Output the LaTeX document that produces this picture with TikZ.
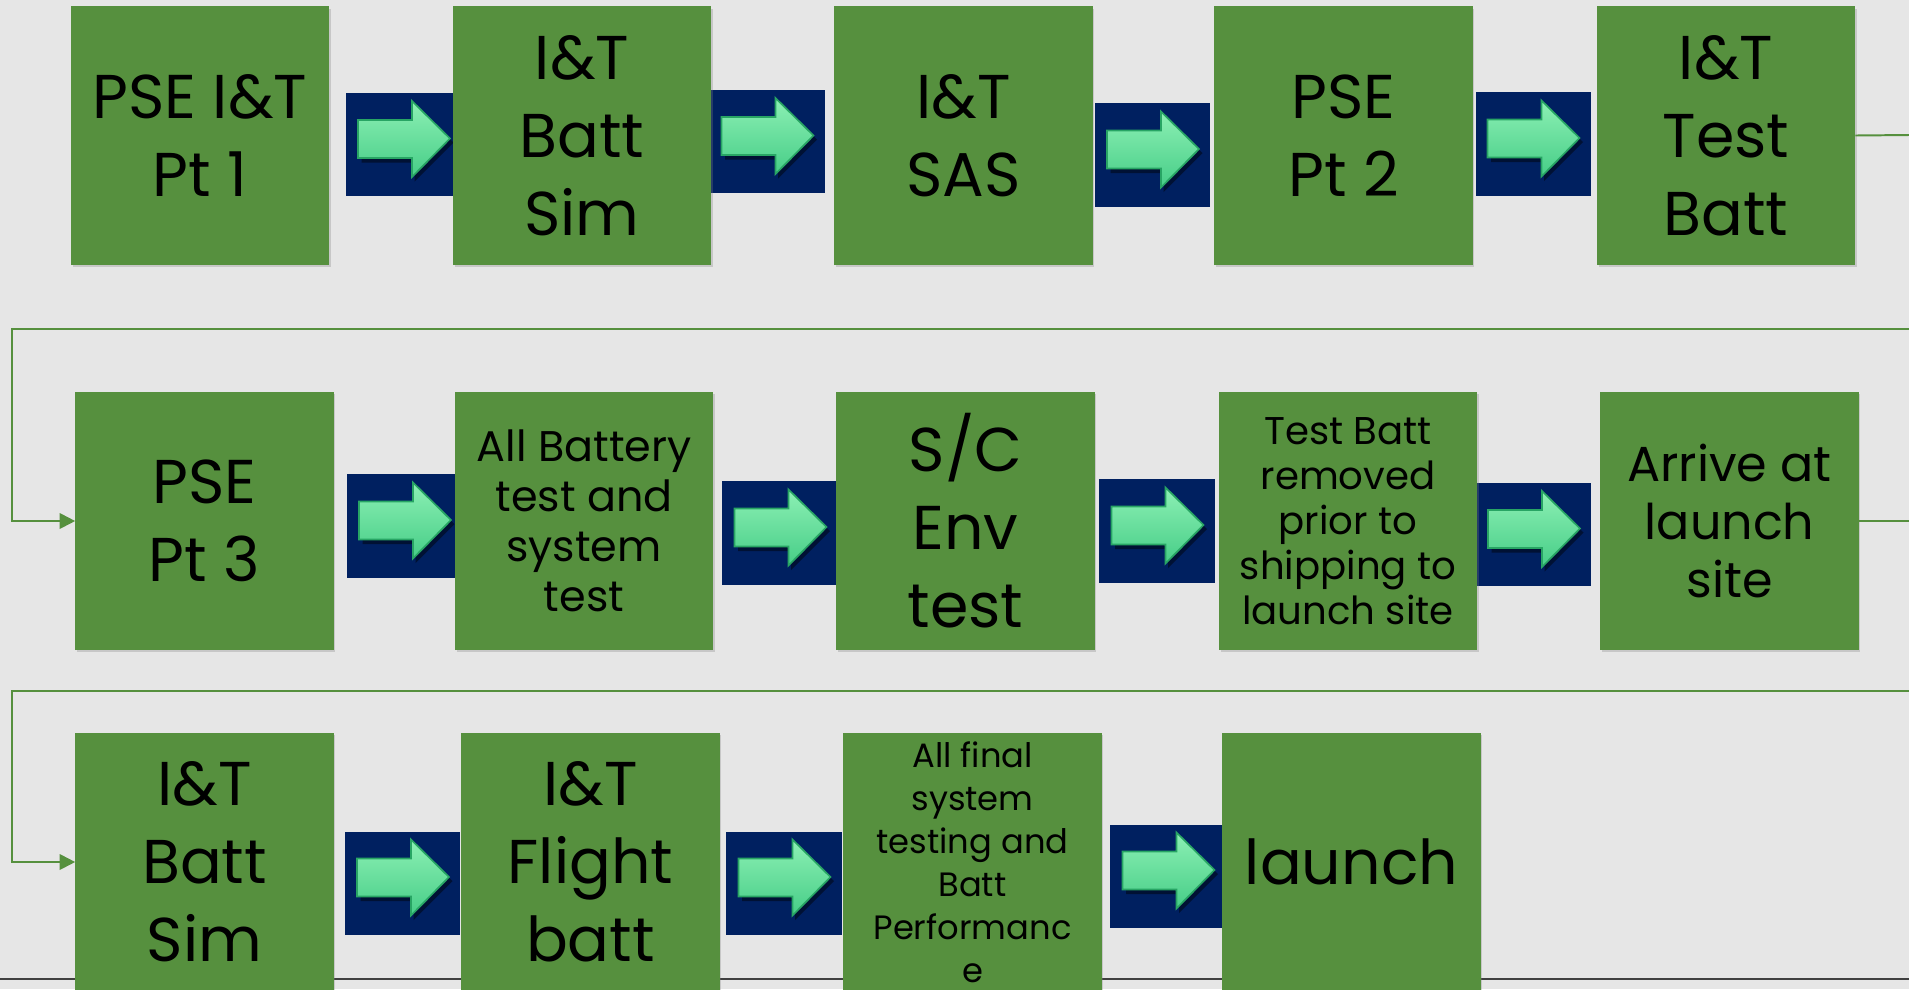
\documentclass[tikz,border=0pt]{standalone}
\usepackage{fontspec}
\setmainfont{Poppins}
\usetikzlibrary{arrows.meta,shadows}
\definecolor{slidebg}{RGB}{230,230,230}
\definecolor{boxgreen}{RGB}{86,144,62}
\definecolor{navyblue}{RGB}{0,32,96}
\definecolor{arrowtop}{RGB}{140,240,180}
\definecolor{arrowbot}{RGB}{70,205,135}
\definecolor{arrowedge}{RGB}{40,165,100}
\begin{document}
\begin{tikzpicture}[
      x=0.025cm, y=-0.025cm,
      step box/.style={fill=boxgreen, minimum width=6.45cm, minimum height=6.45cm,
                       inner sep=0pt, align=center, text=black,
                       drop shadow={shadow xshift=1.2pt, shadow yshift=-1.5pt, opacity=0.3}},
      big/.style={font=\fontsize{44}{55.5}\selectfont},
      navy box/.style={fill=navyblue, minimum width=2.875cm, minimum height=2.575cm, inner sep=0pt,
        path picture={
          \coordinate (c) at (path picture bounding box.center);
          % schaduw onder de pijl
          \fill[black, opacity=0.45] ([shift={(-42,-20)}]c) -- ([shift={(11,-20)}]c)
            -- ([shift={(11,-39)}]c) -- ([shift={(50,-2)}]c) -- ([shift={(11,37)}]c)
            -- ([shift={(11,18)}]c) -- ([shift={(-42,18)}]c) -- cycle;
          % groene blokpijl
          \draw[arrowedge, line width=1.2pt, top color=arrowtop, bottom color=arrowbot]
            ([shift={(-45.5,-24.5)}]c) -- ([shift={(8.5,-24.5)}]c)
            -- ([shift={(8.5,-43.5)}]c) -- ([shift={(46.5,-6)}]c) -- ([shift={(8.5,32.5)}]c)
            -- ([shift={(8.5,13.5)}]c) -- ([shift={(-45.5,13.5)}]c) -- cycle;
        }},
      link/.style={draw=boxgreen, line width=1.4pt},
      bottomline/.style={draw=black!75, line width=1.4pt}
    ]
    % achtergrond en kader
    \useasboundingbox (0,0) rectangle (1909,989);
    \fill[slidebg] (0,0) rectangle (1909,989);
    \clip (0,0) rectangle (1909,989);
    \draw[bottomline] (0,979) -- (1909,979);

    % vrije uiteinden van de verbindingslijnen
    \coordinate (endA) at (1909,135);
    \coordinate (wrapA) at (1909,329);
    \coordinate (turnA) at (12,329);
    \coordinate (endB) at (1909,521);
    \coordinate (wrapB) at (1909,691);
    \coordinate (turnB) at (12,691);

    % pijlblokken
    \node[navy box] (arrA1) at (403.5,144.5) {};
    \node[navy box] (arrA2) at (767,141.5) {};
    \node[navy box] (arrA3) at (1152.5,155) {};
    \node[navy box] (arrA4) at (1533,144) {};
    \node[navy box] (arrB1) at (404.5,526) {};
    \node[navy box] (arrB2) at (780,533) {};
    \node[navy box] (arrB3) at (1157,531) {};
    \node[navy box] (arrB4) at (1533.5,534.5) {};
    \node[navy box] (arrC1) at (402.5,883) {};
    \node[navy box] (arrC2) at (784,883) {};
    \node[navy box] (arrC3) at (1168,876) {};

    % rij 1
    \node[step box, big] (pseA) at (200,135.5) {PSE I\&T\\Pt 1};
    \node[step box, big] (battSimA) at (582,135.5) {I\&T\\Batt\\Sim};
    \node[step box, big] (sas) at (963.5,135.5) {I\&T\\SAS};
    \node[step box, big] (pseB) at (1343.5,135.5) {PSE\\Pt 2};
    \node[step box, big] (testBatt) at (1726,135.5) {I\&T\\Test\\Batt};

    % rij 2
    \node[step box, big] (pseC) at (204.5,521) {PSE\\Pt 3};
    \node[step box, font=\fontsize{30.5}{35.6}\selectfont] (allBatt) at (584,521)
      {All Battery\\test and\\system\\test};
    \node[step box, big] (envTest) at (965.5,521) {S/C\\Env\\test};
    \node[step box, font=\fontsize{27.5}{32}\selectfont] (removed) at (1348,521)
      {Test Batt\\removed\\prior to\\shipping to\\launch site};
    \node[step box, font=\fontsize{35}{41}\selectfont] (arrive) at (1729.5,521)
      {Arrive at\\launch\\site};

    % rij 3
    \node[step box, big] (battSimB) at (204.5,862) {I\&T\\Batt\\Sim};
    \node[step box, big] (flightBatt) at (590.5,862) {I\&T\\Flight\\batt};
    \node[step box, font=\fontsize{24}{30.6}\selectfont] (finalTest) at (972.5,862)
      {All final\\system\\testing and\\Batt\\Performanc\\e};
    \node[step box, big] (launch) at (1351.5,862) {launch};

    % verbindingen tussen de rijen
    \draw[link] (testBatt.east) -- (endA);
    \draw[link, -{Triangle[length=11pt, width=11pt]}] (wrapA) -- (turnA) |- (pseC.west);
    \draw[link] (arrive.east) -- (endB);
    \draw[link, -{Triangle[length=11pt, width=11pt]}] (wrapB) -- (turnB) |- (battSimB.west);
  \end{tikzpicture}
\end{document}
